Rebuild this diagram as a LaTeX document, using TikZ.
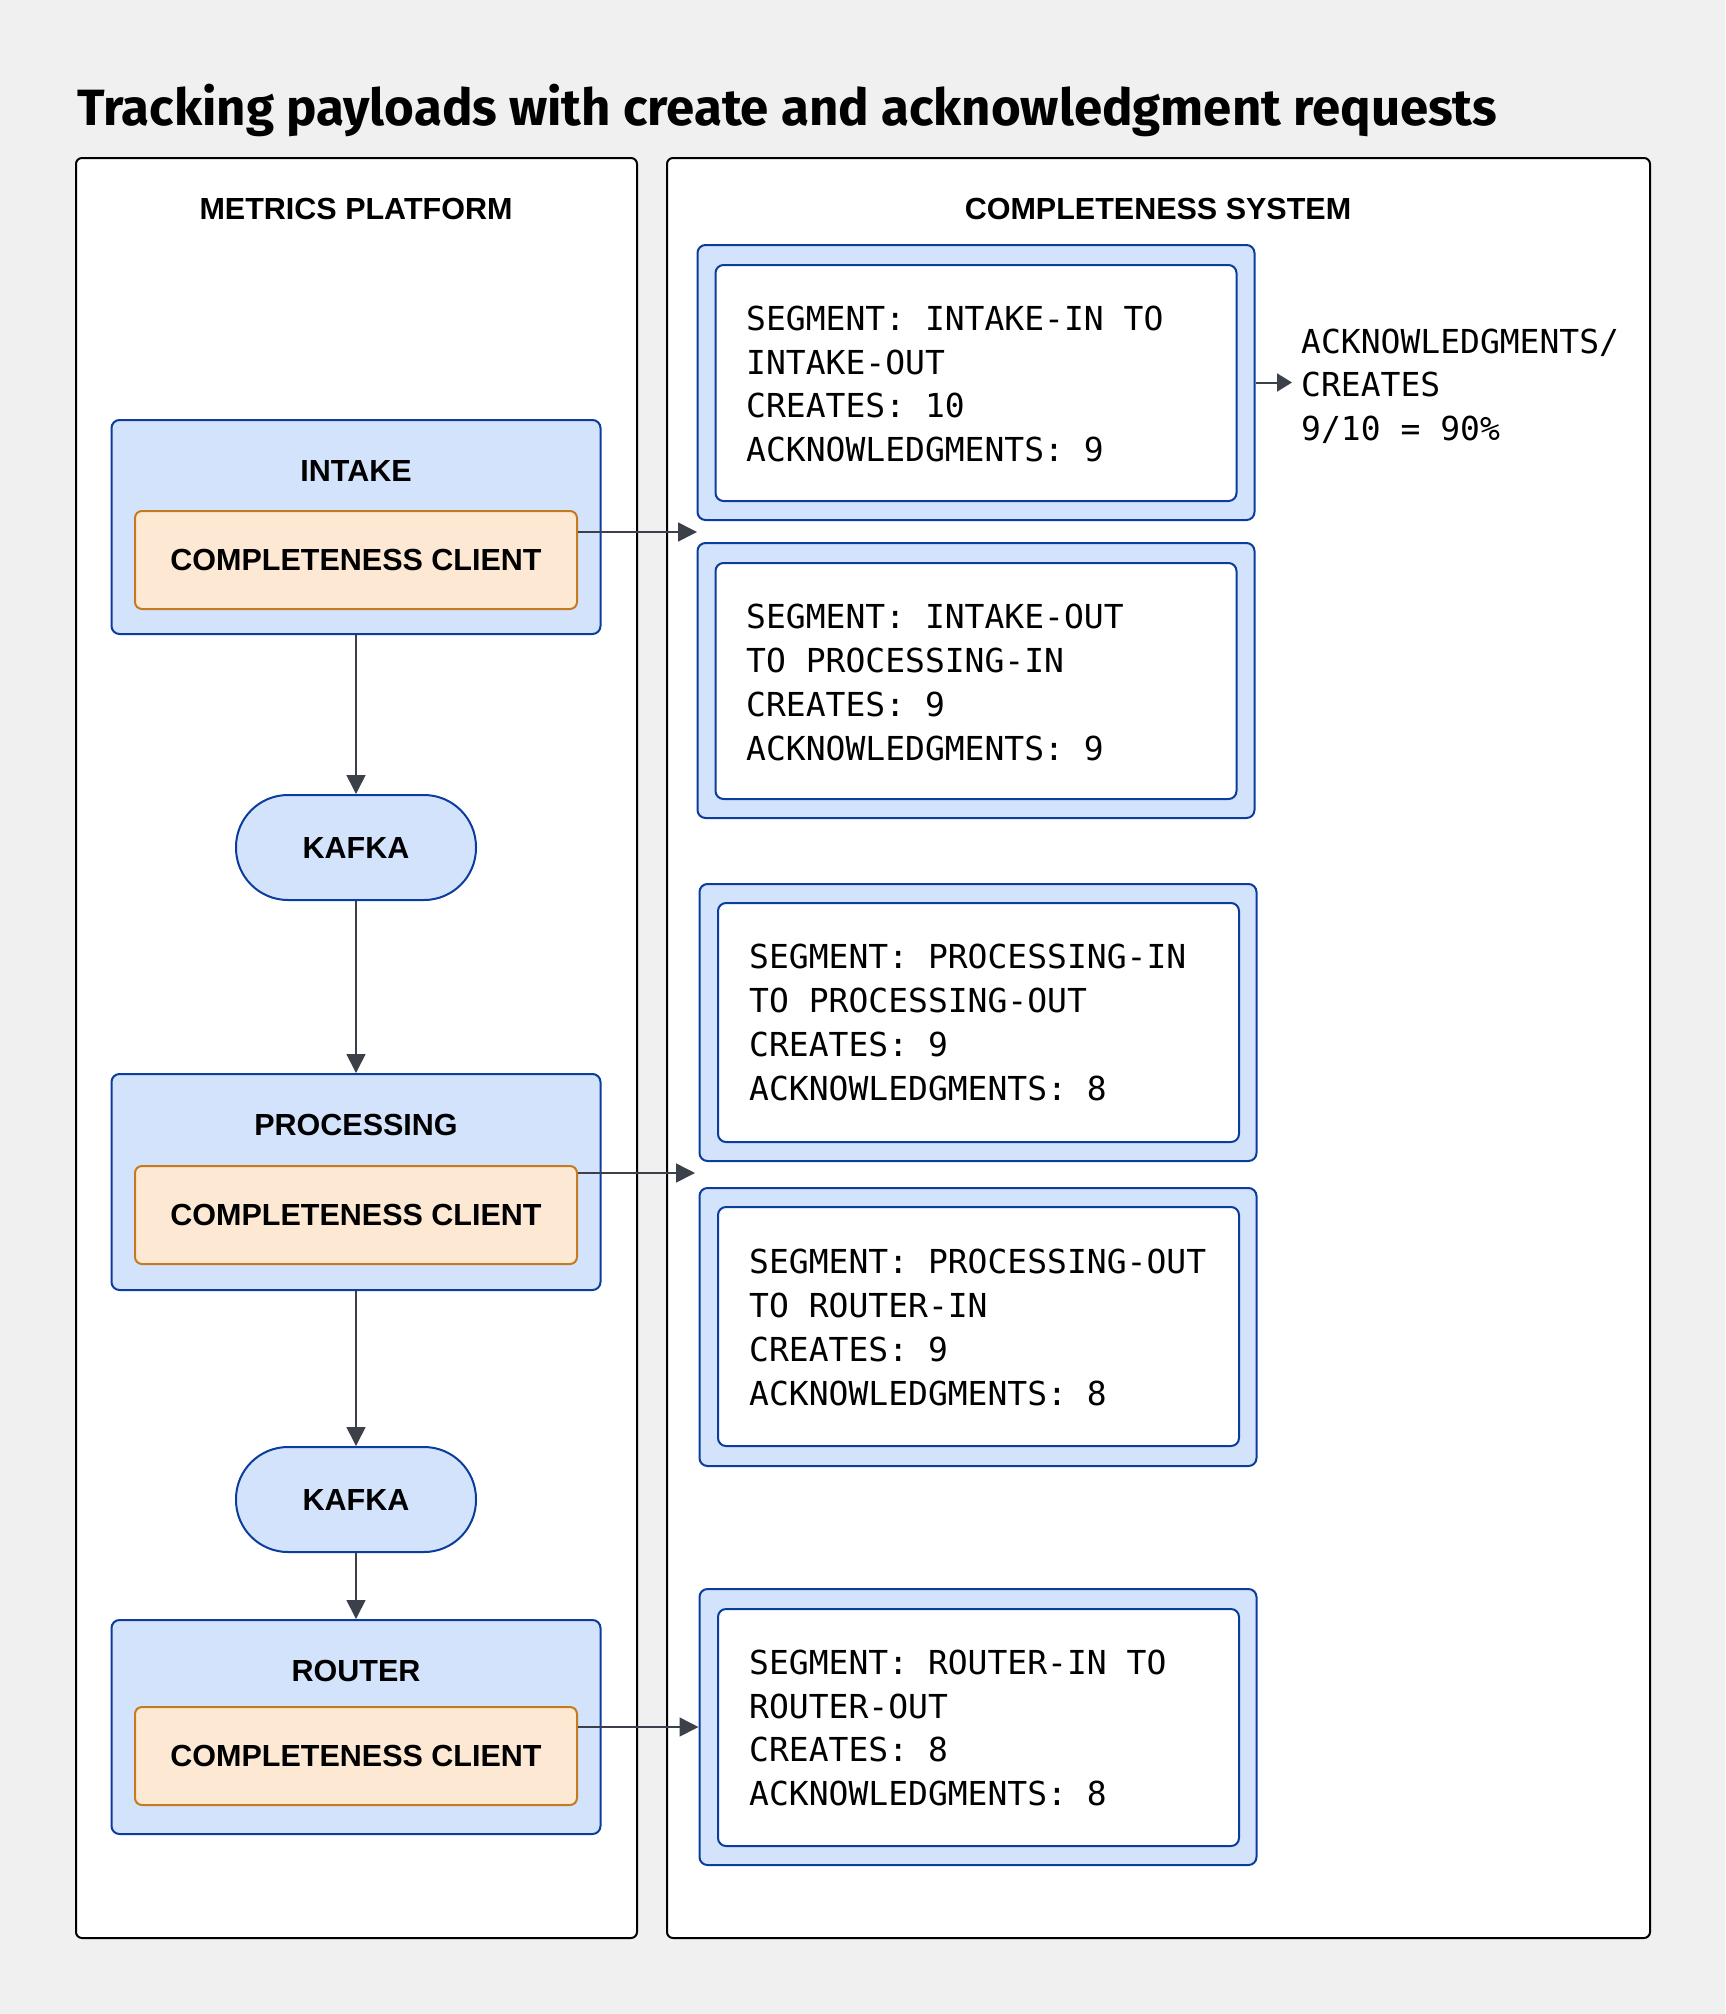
\documentclass[tikz,border=0pt]{standalone}
\usepackage{fontspec}
\setmainfont{Fira Sans}
\setmonofont{DejaVu Sans Mono}
\newfontfamily\lblfont{Liberation Sans}
\usetikzlibrary{arrows.meta}
\definecolor{bgc}{HTML}{F0F0F0}
\definecolor{bluefl}{HTML}{D4E3FC}
\definecolor{bluebd}{HTML}{0A3D9E}
\definecolor{orfl}{HTML}{FDE9D3}
\definecolor{orbd}{HTML}{C67A1E}
\definecolor{arrc}{HTML}{3C4048}
\tikzset{
  panel/.style={draw=black, line width=2pt, fill=white, rounded corners=6pt, inner sep=0pt},
  bluebox/.style={draw=bluebd, fill=bluefl, line width=2pt, rounded corners=8pt, inner sep=0pt, minimum width=489pt},
  ccbox/.style={draw=orbd, fill=orfl, line width=2pt, rounded corners=7pt, inner sep=0pt, minimum width=442pt, minimum height=98pt, font=\lblfont\bfseries\fontsize{30.5}{36}\selectfont},
  lbl/.style={inner sep=0pt, font=\lblfont\bfseries\fontsize{30.5}{36}\selectfont},
  kafka/.style={draw=bluebd, fill=bluefl, line width=2pt, rounded corners=52pt, inner sep=0pt, minimum width=240pt, minimum height=105pt, font=\lblfont\bfseries\fontsize{30.5}{36}\selectfont},
  segout/.style={draw=bluebd, fill=bluefl, line width=2pt, rounded corners=8pt, inner sep=0pt, minimum width=557pt},
  segin/.style={draw=bluebd, fill=white, line width=2pt, rounded corners=8pt, inner sep=0pt, minimum width=521pt},
  mono/.style={inner sep=0pt, anchor=west, align=left, font=\ttfamily\fontsize{33}{43.7}\selectfont},
  arr/.style={draw=arrc, line width=1.6pt, -{Triangle[length=19pt,width=19pt]}}
}
\begin{document}
\begin{tikzpicture}[x=1pt,y=-1pt]
\fill[bgc] (0,0) rectangle (1725,2014);
\useasboundingbox (0,0) rectangle (1725,2014);

\node[anchor=base west, inner sep=0pt, font=\bfseries\fontsize{51}{56}\selectfont] (title) at (77,125) {Tracking payloads with create and acknowledgment requests};

% panels
\node[panel, minimum width=561pt, minimum height=1780pt] (lp) at (356.5,1048) {};
\node[panel, minimum width=983pt, minimum height=1780pt] (rp) at (1158.5,1048) {};
\node[lbl] (lpt) at (356,209) {METRICS PLATFORM};
\node[lbl] (rpt) at (1158,209) {COMPLETENESS SYSTEM};

% left column
\node[bluebox, minimum height=214pt] (intake) at (356,527) {};
\node[lbl] (intakel) at (356,471) {INTAKE};
\node[ccbox] (cc1) at (356,560) {COMPLETENESS CLIENT};

\node[kafka] (k1) at (356,847.5) {KAFKA};

\node[bluebox, minimum height=216pt] (proc) at (356,1182) {};
\node[lbl] (procl) at (356,1125) {PROCESSING};
\node[ccbox] (cc2) at (356,1215) {COMPLETENESS CLIENT};

\node[kafka] (k2) at (356,1499.5) {KAFKA};

\node[bluebox, minimum height=214pt] (router) at (356,1727) {};
\node[lbl] (routerl) at (356,1671) {ROUTER};
\node[ccbox] (cc3) at (356,1756) {COMPLETENESS CLIENT};

\draw[arr] (intake.south) -- (k1.north);
\draw[arr] (k1.south) -- (proc.north);
\draw[arr] (proc.south) -- (k2.north);
\draw[arr] (k2.south) -- (router.north);

% segments
\node[segout, minimum height=275pt] (s1o) at (976,382.5) {};
\node[segin, minimum height=236pt] (s1i) at (976,383) {};
\node[mono] (s1t) at (746,384) {SEGMENT: INTAKE-IN TO\\INTAKE-OUT\\CREATES: 10\\ACKNOWLEDGMENTS: 9};

\node[segout, minimum height=275pt] (s2o) at (976,680.5) {};
\node[segin, minimum height=236pt] (s2i) at (976,681) {};
\node[mono] (s2t) at (746,682.5) {SEGMENT: INTAKE-OUT\\TO PROCESSING-IN\\CREATES: 9\\ACKNOWLEDGMENTS: 9};

\node[segout, minimum height=277pt] (s3o) at (978,1022.5) {};
\node[segin, minimum height=239pt] (s3i) at (978.5,1022.5) {};
\node[mono] (s3t) at (749,1022.5) {SEGMENT: PROCESSING-IN\\TO PROCESSING-OUT\\CREATES: 9\\ACKNOWLEDGMENTS: 8};

\node[segout, minimum height=278pt] (s4o) at (978,1327) {};
\node[segin, minimum height=239pt] (s4i) at (978.5,1326.5) {};
\node[mono] (s4t) at (749,1327.5) {SEGMENT: PROCESSING-OUT\\TO ROUTER-IN\\CREATES: 9\\ACKNOWLEDGMENTS: 8};

\node[segout, minimum height=276pt] (s5o) at (978,1727) {};
\node[segin, minimum height=237pt] (s5i) at (978.5,1727.5) {};
\node[mono] (s5t) at (749,1728) {SEGMENT: ROUTER-IN TO\\ROUTER-OUT\\CREATES: 8\\ACKNOWLEDGMENTS: 8};

\node[mono] (ratio) at (1301,386) {ACKNOWLEDGMENTS/\\CREATES\\9/10 = 90\%};

% connectors
\coordinate (t1) at (697,532);
\coordinate (t2) at (695,1173);
\draw[arr] (cc1.east |- t1) -- (t1);
\draw[arr] (cc2.east |- t2) -- (t2);
\draw[arr] (cc3.east |- s5o.west) -- (s5o.west);
\draw[draw=arrc, line width=2pt, -{Triangle[length=15pt,width=18pt]}, shorten >=9pt] (s1o.east) -- (s1o.east -| ratio.west);
\end{tikzpicture}
\end{document}
